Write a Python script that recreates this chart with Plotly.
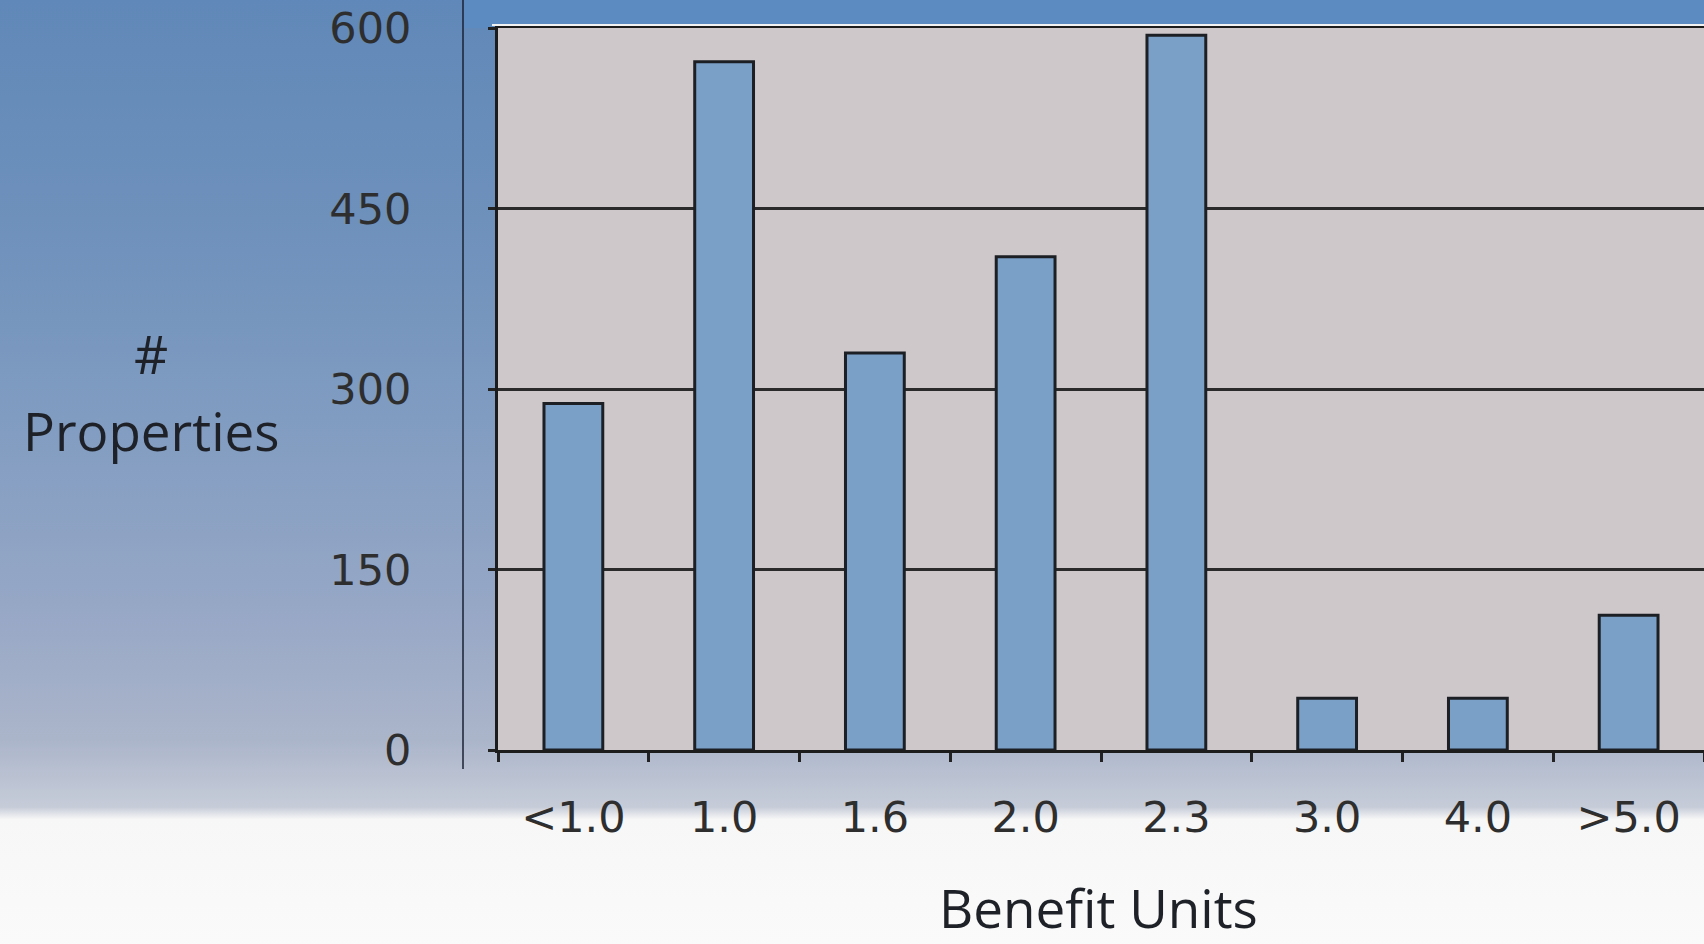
import base64
import plotly.graph_objects as go

categories = ["<1.0", "1.0", "1.6", "2.0", "2.3", "3.0", "4.0", ">5.0"]
properties = [288, 572, 330, 410, 594, 43, 43, 112]
y_ticks = [0, 150, 300, 450, 600]

W, H = 1704, 944
L, R, T, B = 498, 0, 28, 194
pw, ph = W - L - R, H - T - B

def px(xpix):
    return (xpix - L) / pw

def py(ypix):
    return (H - B - ypix) / ph

fig = go.Figure()
fig.add_trace(go.Bar(
    x=categories, y=properties,
    marker=dict(color="#7aa0c8", line=dict(color="#1c1f24", width=3)),
    width=0.39,
))

svg = (
    '<svg xmlns="http://www.w3.org/2000/svg" width="1704" height="944" viewBox="0 0 1704 944" preserveAspectRatio="none">'
    '<defs><linearGradient id="g" x1="0" y1="0" x2="0" y2="1">'
    '<stop offset="0" stop-color="#6088b8"/>'
    '<stop offset="0.265" stop-color="#7092bc"/>'
    '<stop offset="0.477" stop-color="#849ec2"/>'
    '<stop offset="0.657" stop-color="#98a8c6"/>'
    '<stop offset="0.784" stop-color="#abb5ca"/>'
    '<stop offset="0.855" stop-color="#c6ccd8"/>'
    '<stop offset="0.868" stop-color="#f7f7f7"/>'
    '<stop offset="1" stop-color="#fafafa"/>'
    '</linearGradient></defs>'
    '<rect x="0" y="0" width="1704" height="944" fill="url(#g)"/>'
    '</svg>'
)
svg_uri = "data:image/svg+xml;base64," + base64.b64encode(svg.encode()).decode()

shapes = []
shapes.append(dict(type="rect", xref="paper", yref="paper", layer="below",
                   x0=px(463), x1=px(W), y0=py(T), y1=py(0),
                   fillcolor="#5c8bc2", line=dict(width=0)))
shapes.append(dict(type="rect", xref="paper", yref="paper", layer="below",
                   x0=0, x1=1, y0=0, y1=1,
                   fillcolor="#cec8cb", line=dict(width=0)))
shapes.append(dict(type="line", xref="paper", yref="paper", layer="above",
                   x0=px(492), x1=1, y0=py(T - 3), y1=py(T - 3),
                   line=dict(color="#f2f2f2", width=2)))
shapes.append(dict(type="line", xref="paper", yref="paper", layer="above",
                   x0=px(463), x1=px(463), y0=py(769), y1=py(0),
                   line=dict(color="#1a2233", width=1.5)))

tick_font = dict(family="DejaVu Sans", size=43, color="#2e2e2e")
title_font = dict(family="Open Sans", size=53, color="#1e2228")

fig.update_layout(
    width=W, height=H,
    margin=dict(l=L, r=R, t=T, b=B, pad=0),
    paper_bgcolor="#fafafa",
    plot_bgcolor="rgba(0,0,0,0)",
    showlegend=False,
    shapes=shapes,
    images=[dict(source=svg_uri, xref="paper", yref="paper",
                 x=px(0), y=py(0), sizex=W / pw, sizey=H / ph,
                 xanchor="left", yanchor="top", sizing="stretch", layer="below")],
    bargap=0.61,
    xaxis=dict(
        type="category", range=[-0.5, 7.5],
        tickson="boundaries", ticks="outside", ticklen=9, tickwidth=3, tickcolor="#222",
        showline=True, linecolor="#1c1c1c", linewidth=3, mirror=True,
        showgrid=False,
        tickfont=tick_font,
        ticklabelstandoff=27,
    ),
    yaxis=dict(
        range=[0, 600], tickvals=y_ticks, ticktext=[str(v) for v in y_ticks],
        ticks="outside", ticklen=7, tickwidth=3, tickcolor="#222",
        showline=True, linecolor="#1c1c1c", linewidth=3,
        showgrid=True, gridcolor="#2a2a2a", gridwidth=3,
        zeroline=False,
        tickfont=tick_font,
        ticklabelstandoff=68,
    ),
    annotations=[
        dict(text="#", xref="paper", yref="paper", x=px(151), y=py(353),
             xanchor="center", yanchor="middle", showarrow=False, font=title_font),
        dict(text="Properties", xref="paper", yref="paper", x=px(151), y=py(430),
             xanchor="center", yanchor="middle", showarrow=False, font=title_font),
        dict(text="Benefit Units", xref="paper", yref="paper", x=px(1098), y=py(908),
             xanchor="center", yanchor="middle", showarrow=False, font=title_font),
    ],
)

fig.write_html("out.html", config={"displayModeBar": False},
               post_script="document.body.style.margin='0';document.body.style.overflow='hidden';")
